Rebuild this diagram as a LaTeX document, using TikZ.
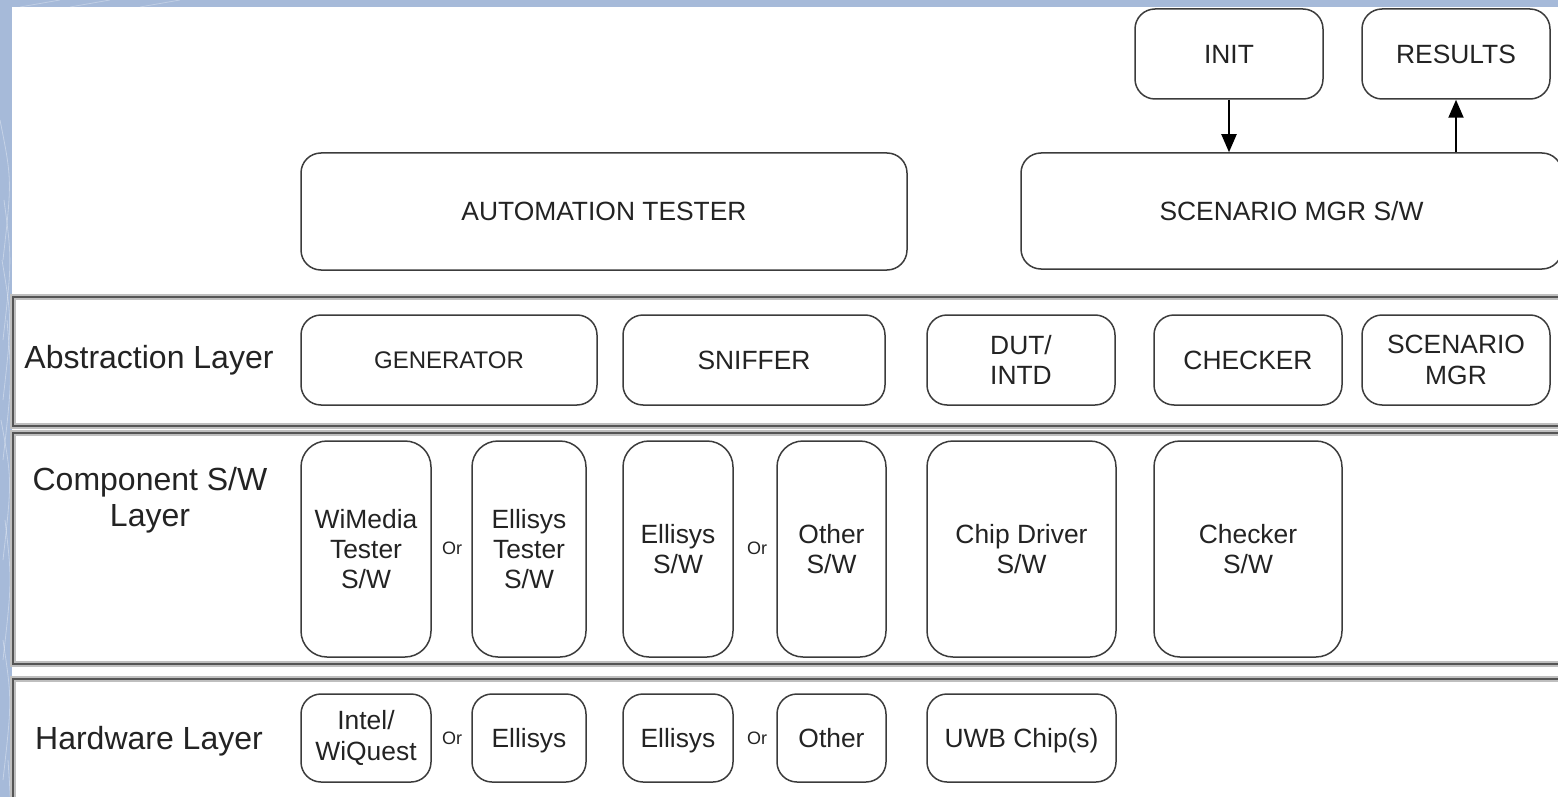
\documentclass[tikz,border=0pt]{standalone}
\usepackage{fontspec}
\setmainfont{Liberation Sans}
\usetikzlibrary{arrows.meta}
\definecolor{bgblue}{RGB}{166,186,217}
\definecolor{linec}{RGB}{60,60,60}
\definecolor{bandc}{RGB}{85,85,85}
\definecolor{txtc}{RGB}{35,35,35}
\begin{document}
\begin{tikzpicture}[x=0.5pt,y=-0.5pt,
  box/.style={draw=linec, line width=0.75pt, rounded corners=10pt, fill=white, inner sep=0pt, align=center, text=txtc, font=\fontsize{13.2}{15.2}\selectfont},
  one/.style={text height=11.8pt, text depth=2.35pt},
  tall/.style={box, rounded corners=13pt},
  smallfont/.style={font=\fontsize{12}{14}\selectfont, text height=10.9pt, text depth=2.3pt},
  band/.style={draw=bandc, line width=1.3pt},
  bandhalo/.style={draw=black!25, line width=2.6pt},
  layerlbl/.style={align=center, text=txtc, font=\fontsize{16}{18}\selectfont},
  onel/.style={text height=14.3pt, text depth=2.8pt},
  orlbl/.style={text=txtc, font=\fontsize{9}{10}\selectfont, inner sep=0pt},
  arr/.style={draw=black, line width=1pt, -{Triangle[length=9pt,width=7.5pt]}}]
\useasboundingbox (0,0) rectangle (1558,797);
\begin{scope}
\clip (0,0) rectangle (1558,797);
% background
\fill[bgblue] (0,0) rectangle (1558,797);
\foreach \a/\b in {0/120, 4/200, 2/260, 7/320, 1/420, 5/520, 3/640, 8/760}
  \draw[white, opacity=0.35, line width=0.4pt] (\a,\b) .. controls (12,\b+60) .. (3,\b+140);
\draw[white, opacity=0.3, line width=0.4pt] (60,0) -- (20,7);
\draw[white, opacity=0.3, line width=0.4pt] (110,0) -- (70,7);
\draw[white, opacity=0.3, line width=0.4pt] (180,0) -- (140,7);
\fill[white] (12,7) rectangle (1600,820);
% layer bands
\draw[bandhalo] (13,297) rectangle (1600,426);
\draw[band] (13,297) rectangle (1600,426);
\draw[bandhalo] (13,433) rectangle (1600,664);
\draw[band] (13,433) rectangle (1600,664);
\draw[bandhalo] (13,679) rectangle (1600,830);
\draw[band] (13,679) rectangle (1600,830);
% layer labels
\node[layerlbl, onel] (labs) at (149,357) {Abstraction Layer};
\node[layerlbl] (lcomp) at (150,500) {Component S/W\\Layer};
\node[layerlbl, onel] (lhw) at (149,738) {Hardware Layer};
% top boxes
\node[box, one, minimum width=94pt, minimum height=45pt] (init) at (1229,54) {INIT};
\node[box, one, minimum width=94pt, minimum height=45pt] (results) at (1456,54) {RESULTS};
\node[box, one, minimum width=303pt, minimum height=58.5pt] (auto) at (604,211.5) {AUTOMATION TESTER};
\node[box, one, minimum width=270.5pt, minimum height=58pt] (scensw) at (1291.5,211) {SCENARIO MGR S/W};
\draw[arr] (init.south) -- (init.south |- scensw.north);
\draw[arr] (results.south |- scensw.north) -- (results.south);
% abstraction row
\node[box, smallfont, minimum width=148pt, minimum height=45pt] (gen) at (449,360) {GENERATOR};
\node[box, one, minimum width=131pt, minimum height=45pt] (sniff) at (754,360) {SNIFFER};
\node[box, minimum width=94pt, minimum height=45pt] (dut) at (1021,360) {DUT/\\INTD};
\node[box, one, minimum width=94pt, minimum height=45pt] (chk) at (1248,360) {CHECKER};
\node[box, minimum width=94pt, minimum height=45pt] (scen) at (1456,360) {SCENARIO\\MGR};
% component row
\node[tall, minimum width=65pt, minimum height=108pt] (wim) at (366,549) {WiMedia\\Tester\\S/W};
\node[orlbl] (or1) at (452,548) {Or};
\node[tall, minimum width=57pt, minimum height=108pt] (elt) at (529,549) {Ellisys\\Tester\\S/W};
\node[tall, minimum width=55pt, minimum height=108pt] (elsw) at (678,549) {Ellisys\\S/W};
\node[orlbl] (or2) at (757,548) {Or};
\node[tall, minimum width=54.5pt, minimum height=108pt] (othsw) at (831.5,549) {Other\\S/W};
\node[tall, minimum width=94.5pt, minimum height=108pt] (chip) at (1021.5,549) {Chip Driver\\S/W};
\node[tall, minimum width=94pt, minimum height=108pt] (chksw) at (1248,549) {Checker\\S/W};
% hardware row
\node[box, minimum width=65pt, minimum height=44pt] (intel) at (366,738) {Intel/\\WiQuest};
\node[orlbl] (or3) at (452,738) {Or};
\node[box, one, minimum width=57pt, minimum height=44pt] (elhw) at (529,738) {Ellisys};
\node[box, one, minimum width=55pt, minimum height=44pt] (elhw2) at (678,738) {Ellisys};
\node[orlbl] (or4) at (757,738) {Or};
\node[box, one, minimum width=54.5pt, minimum height=44pt] (othhw) at (831.5,738) {Other};
\node[box, one, minimum width=94.5pt, minimum height=44pt] (uwb) at (1021.5,738) {UWB Chip(s)};
\end{scope}
\end{tikzpicture}
\end{document}
